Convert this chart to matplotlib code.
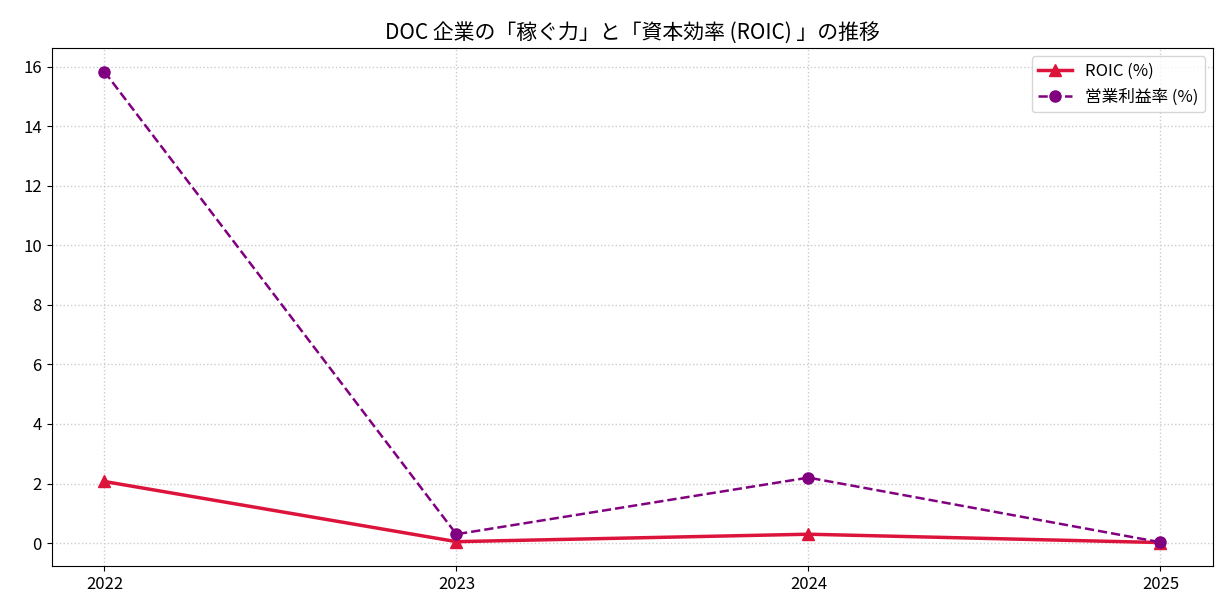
import matplotlib
matplotlib.use('Agg')
import matplotlib.pyplot as plt

plt.rcParams['font.family'] = ['Noto Sans CJK JP', 'DejaVu Sans']

years = [2022, 2023, 2024, 2025]
roic = [2.07, 0.05, 0.30, 0.02]
op_margin = [15.83, 0.30, 2.20, 0.03]

fig, ax = plt.subplots(figsize=(12.28, 6.16), dpi=100)

ax.plot(years, roic, color='crimson', marker='^', linewidth=2.5, markersize=8, label='ROIC (%)')
ax.plot(years, op_margin, color='purple', marker='o', linestyle='--', linewidth=1.8, markersize=8, label='営業利益率 (%)')

ax.set_xticks(years)
ax.set_xticklabels([str(y) for y in years])
ax.set_yticks(range(0, 17, 2))
ax.tick_params(labelsize=12)
ax.grid(True, linestyle=':', color='#cccccc', linewidth=1)
ax.set_title('DOC 企業の「稼ぐ力」と「資本効率 (ROIC) 」の推移', fontsize=15)
ax.legend(loc='upper right', fontsize=12)

fig.subplots_adjust(left=0.042, right=0.988, top=0.922, bottom=0.081)
fig.savefig('out.png')
